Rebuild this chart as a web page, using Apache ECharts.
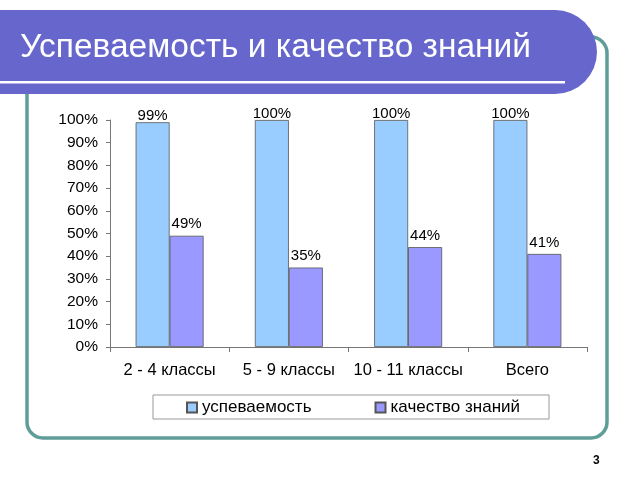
<!DOCTYPE html>
<html><head><meta charset="utf-8">
<style>html,body{margin:0;padding:0;background:#fff}#c{width:640px;height:480px}</style>
<script src="https://cdn.jsdelivr.net/npm/echarts@6/dist/echarts.min.js"></script>
</head><body><div id="c"></div>
<script>
const categories = ['2 - 4 классы', '5 - 9 классы', '10 - 11 классы', 'Всего'];
const seriesNames = ['успеваемость', 'качество знаний'];
const performance = [99, 100, 100, 100];
const quality = [49, 35, 44, 41];
const yTicks = [0, 10, 20, 30, 40, 50, 60, 70, 80, 90, 100];
const titleText = 'Успеваемость и качество знаний';
const pageNumber = '3';

const chart = echarts.init(document.getElementById('c'));
const font = 'Liberation Sans, Arial, sans-serif';
chart.setOption({
  animation: false,
  textStyle: {fontFamily: font},
  grid: {left: 110, right: 53, top: 120, bottom: 133},
  legend: {
    left: 186, top: 399, itemWidth: 10, itemHeight: 10, itemGap: 63,
    icon: 'rect', padding: 0,
    textStyle: {fontSize: 17, color: '#000', fontFamily: font},
    data: seriesNames
  },
  xAxis: {
    type: 'category', data: categories,
    axisLine: {lineStyle: {color: '#777', width: 1}},
    axisTick: {show: true, length: 5, lineStyle: {color: '#777'}},
    axisLabel: {fontSize: 16.5, color: '#000', margin: 15, interval: 0}
  },
  yAxis: {
    type: 'value', min: 0, max: 100, interval: 10,
    splitLine: {show: false},
    axisLine: {show: true, lineStyle: {color: '#777'}},
    axisTick: {show: true, length: 4, lineStyle: {color: '#777'}},
    axisLabel: {fontSize: 15.5, color: '#000', margin: 12,
      formatter: v => yTicks.includes(v) ? v + '%' : ''}
  },
  series: [
    {name: seriesNames[0], type: 'bar', data: performance, barGap: '0%', barCategoryGap: '43%',
     itemStyle: {color: '#99CCFF', borderColor: '#555', borderWidth: 0.8},
     label: {show: true, position: 'top', distance: -1, fontSize: 15, color: '#000', formatter: '{c}%'}},
    {name: seriesNames[1], type: 'bar', data: quality,
     itemStyle: {color: '#9999FF', borderColor: '#555', borderWidth: 0.8},
     label: {show: true, position: 'top', distance: 4, fontSize: 15, color: '#000', formatter: '{c}%'}}
  ],
  graphic: [
    {type: 'rect', z: -10, shape: {x: 27, y: 37, width: 580, height: 401, r: 16},
     style: {fill: 'none', stroke: '#5F9D99', lineWidth: 3.5}},
    {type: 'rect', z: -5, shape: {x: -30, y: 10, width: 627, height: 84, r: [0, 42, 42, 0]},
     style: {fill: '#6666CC'}},
    {type: 'rect', z: -4, shape: {x: 0, y: 81, width: 565, height: 2.5},
     style: {fill: '#ffffff'}},
    {type: 'text', z: -3, left: 20, top: 31,
     style: {text: titleText, fill: '#fff', fontSize: 33.5, fontFamily: font}},
    {type: 'rect', z: -2, shape: {x: 153, y: 395, width: 396, height: 24},
     style: {fill: '#fff', stroke: '#999', lineWidth: 1}},
    {type: 'text', left: 593, top: 455,
     style: {text: pageNumber, fill: '#000', fontSize: 12, fontWeight: 'bold', fontFamily: font}}
  ]
});
</script></body></html>
